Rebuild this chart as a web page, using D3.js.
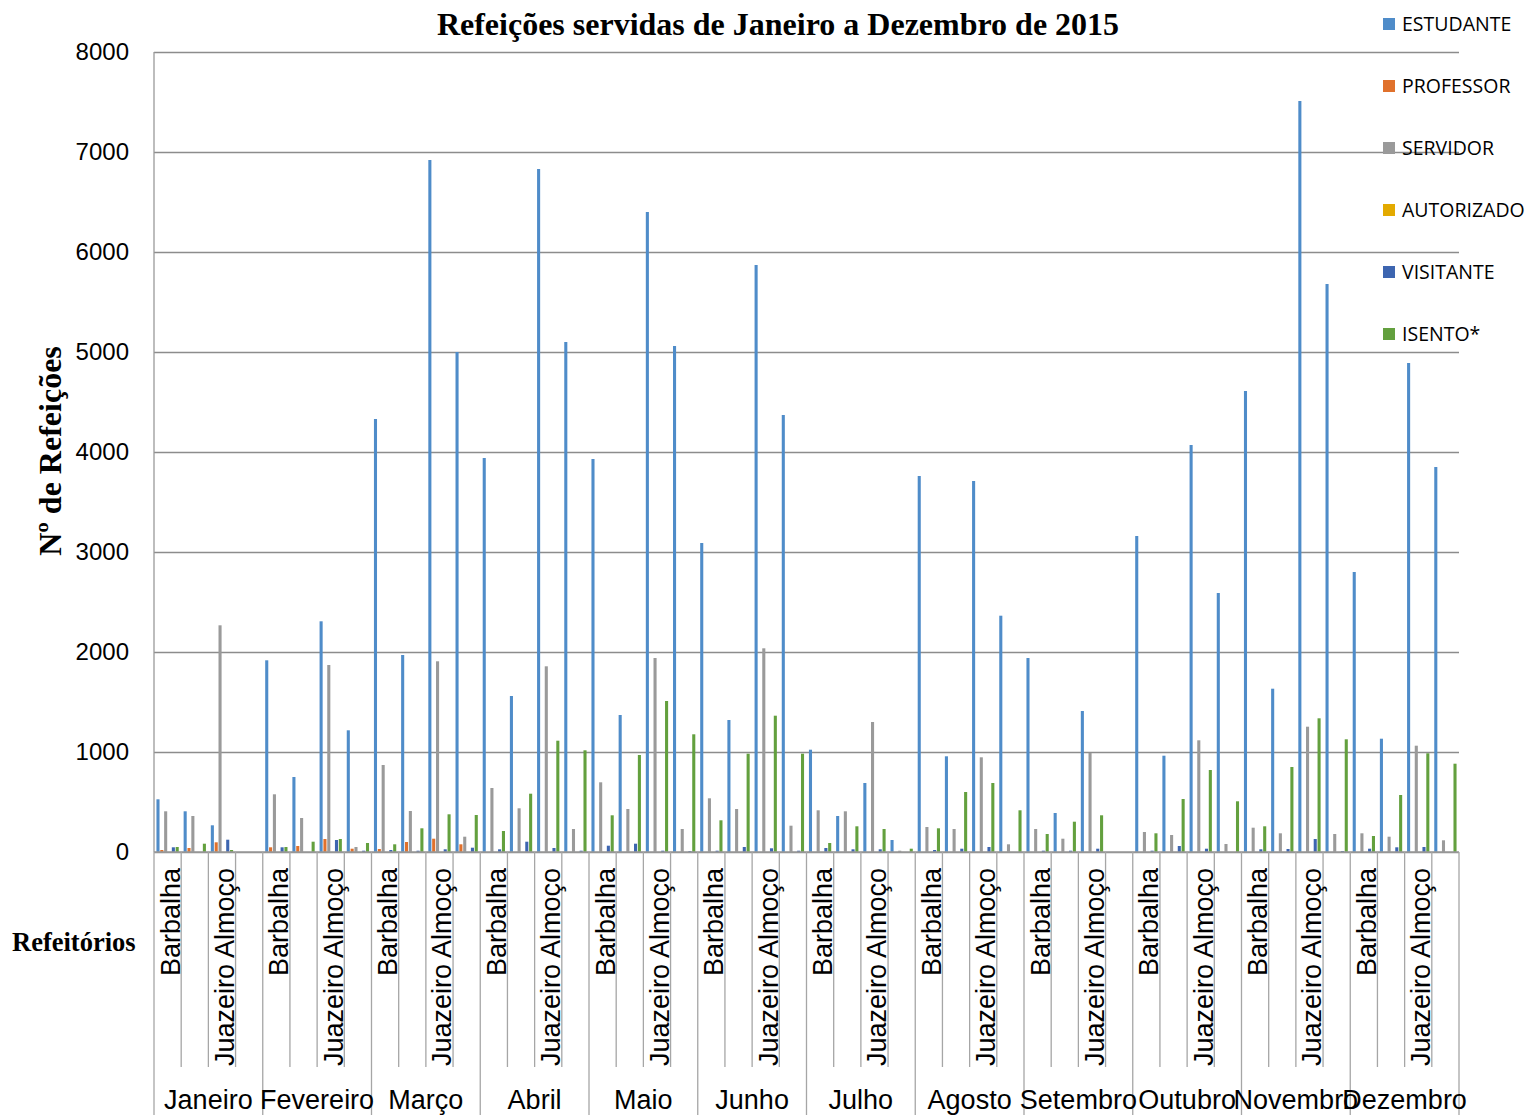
<!DOCTYPE html>
<html><head><meta charset="utf-8">
<script src="https://cdn.jsdelivr.net/npm/d3@7"></script>
<style>body{margin:0;background:#fff}svg{display:block}</style>
</head><body>
<script>
const months = ["Janeiro","Fevereiro","Março","Abril","Maio","Junho","Julho","Agosto","Setembro","Outubro","Novembro","Dezembro"];
const refeitorios = ["Barbalha","Crato","Juazeiro Almoço","Juazeiro Jantar"];
const shownRefeitorios = ["Barbalha","Juazeiro Almoço"];
const seriesNames = ["ESTUDANTE","PROFESSOR","SERVIDOR","AUTORIZADO","VISITANTE","ISENTO*"];
const yTicks = [0,1000,2000,3000,4000,5000,6000,7000,8000];

const estudante = [527,407,267,0, 1917,750,2307,1217, 4330,1970,6920,5000, 3940,1560,6830,5100, 3930,1370,6400,5060, 3090,1320,5870,4370, 1023,360,690,120, 3760,957,3710,2363, 1940,390,1410,0, 3160,963,4070,2590, 4610,1633,7510,5680, 2800,1133,4890,3850];
const professor = [20,40,97,0, 47,60,130,33, 30,100,133,77, 0,0,0,0, 0,0,0,0, 0,0,0,0, 0,0,0,0, 0,0,0,0, 0,0,0,0, 0,0,0,0, 0,0,0,0, 0,0,0,0];
const servidor = [407,360,2267,0, 577,340,1870,50, 870,410,1907,153, 640,437,1857,230, 697,430,1940,230, 537,430,2037,263, 417,407,1300,13, 250,230,947,77, 230,133,990,0, 200,170,1117,80, 243,187,1253,180, 187,153,1063,117];
const autorizado = [0,0,0,0, 0,0,0,0, 0,0,0,0, 0,0,0,0, 0,0,0,0, 0,0,0,0, 0,0,0,0, 0,0,0,0, 0,0,0,0, 0,0,0,0, 0,0,0,0, 0,0,0,0];
const visitante = [47,0,123,0, 47,0,120,13, 20,13,27,43, 27,103,40,13, 63,83,13,10, 13,50,37,13, 40,27,27,0, 20,33,50,0, 13,13,33,0, 13,60,33,0, 27,30,130,10, 33,47,50,0];
const isento = [50,83,20,0, 50,103,130,90, 77,237,377,370, 210,583,1113,1017, 367,970,1510,1177, 317,983,1363,983, 90,257,230,33, 237,600,690,417, 180,303,367,0, 187,530,820,507, 257,850,1337,1127, 160,570,987,883];

const seriesValues = [estudante, professor, servidor, autorizado, visitante, isento];
const colors = ["#4f8cc9","#e0712c","#9a9a9a","#e3aa00","#3d65b0","#63a03e"];

const W = 1528, H = 1115;
const L = 154, R = 1459, T = 52, B = 852;

const svg = d3.select("body").append("svg").attr("width", W).attr("height", H)
  .style("font-family", "'Liberation Sans', Arial, sans-serif");

const cats = [];
months.forEach((m, mi) => refeitorios.forEach((r, ri) => cats.push({key: mi + "|" + ri, mi, ri, name: r})));

const x = d3.scaleBand().domain(cats.map(c => c.key)).range([L, R]).padding(0);
const bw = x.bandwidth();
const groupW = bw * 0.82;
const xs = d3.scaleBand().domain(seriesNames).range([(bw - groupW) / 2, (bw + groupW) / 2]).paddingInner(0.2);
const y = d3.scaleLinear().domain([0, 8000]).range([B, T]);

// gridlines
const grid = svg.append("g").attr("transform", `translate(${L},0)`)
  .call(d3.axisLeft(y).tickValues(yTicks).tickSize(-(R - L)).tickFormat(""));
grid.select(".domain").remove();
grid.selectAll("line").attr("stroke", "#8c8c8c").attr("stroke-width", 1.3);

// y axis line
svg.append("line").attr("x1", L).attr("x2", L).attr("y1", T).attr("y2", B)
  .attr("stroke", "#9a9a9a").attr("stroke-width", 1.3);

// y tick labels
const yl = svg.append("g").attr("transform", `translate(${L},0)`)
  .call(d3.axisLeft(y).tickValues(yTicks).tickSize(0).tickPadding(25).tickFormat(d3.format("d")));
yl.select(".domain").remove();
yl.selectAll("text").attr("font-size", 24).attr("fill", "#000").attr("font-family", "'Liberation Sans', Arial, sans-serif");

// bars
const barData = [];
cats.forEach((c, ci) => seriesNames.forEach((s, si) => barData.push({c, s, si, v: seriesValues[si][ci]})));
svg.append("g").selectAll("rect").data(barData.filter(d => d.v > 0)).join("rect")
  .attr("x", d => x(d.c.key) + xs(d.s))
  .attr("width", xs.bandwidth())
  .attr("y", d => y(d.v))
  .attr("height", d => B - y(d.v))
  .attr("fill", d => colors[d.si]);

// x axis line
svg.append("line").attr("x1", L).attr("x2", R).attr("y1", B).attr("y2", B)
  .attr("stroke", "#9a9a9a").attr("stroke-width", 1.3);

// category separators
const sep = svg.append("g").attr("stroke", "#a6a6a6").attr("stroke-width", 1.3);
cats.forEach((c, ci) => {
  const xx = x(c.key);
  const full = c.ri === 0;
  sep.append("line").attr("x1", xx).attr("x2", xx).attr("y1", B).attr("y2", full ? H : 1067);
});
sep.append("line").attr("x1", R).attr("x2", R).attr("y1", B).attr("y2", H);

// category labels (every other shown)
svg.append("g").selectAll("text").data(cats.filter(c => shownRefeitorios.includes(c.name))).join("text")
  .attr("transform", d => `translate(${x(d.key) + bw / 2 + 12},868) rotate(-90)`)
  .attr("text-anchor", "end")
  .attr("font-size", 27)
  .attr("fill", "#000")
  .text(d => d.name);

// month labels
const mBand = d3.scaleBand().domain(months).range([L, R]).padding(0);
svg.append("g").selectAll("text").data(months).join("text")
  .attr("x", d => mBand(d) + mBand.bandwidth() / 2)
  .attr("y", 1109)
  .attr("text-anchor", "middle")
  .attr("font-size", 27)
  .attr("fill", "#000")
  .text(d => d);

// title
svg.append("text").attr("x", 778).attr("y", 35).attr("text-anchor", "middle")
  .attr("font-family", "'Liberation Serif', 'Times New Roman', serif")
  .attr("font-weight", "bold").attr("font-size", 32).text("Refeições servidas de Janeiro a Dezembro de 2015");

// y title
svg.append("text").attr("transform", "translate(61,451) rotate(-90)").attr("text-anchor", "middle")
  .attr("font-family", "'Liberation Serif', 'Times New Roman', serif")
  .attr("font-weight", "bold").attr("font-size", 32).text("Nº de Refeições");

// x title
svg.append("text").attr("x", 12).attr("y", 951)
  .attr("font-family", "'Liberation Serif', 'Times New Roman', serif")
  .attr("font-weight", "bold").attr("font-size", 26.5).text("Refeitórios");

// legend
const lg = svg.append("g").attr("transform", "translate(1383,0)");
seriesNames.forEach((s, i) => {
  const yy = 24 + i * 62;
  lg.append("rect").attr("x", 0).attr("y", yy - 6).attr("width", 12).attr("height", 12).attr("fill", colors[i]);
  lg.append("text").attr("x", 19).attr("y", yy + 7).attr("font-family", "'Open Sans', 'Noto Sans', sans-serif")
    .attr("font-size", 19.5).attr("fill", "#000").text(s);
});
</script>
</body></html>
